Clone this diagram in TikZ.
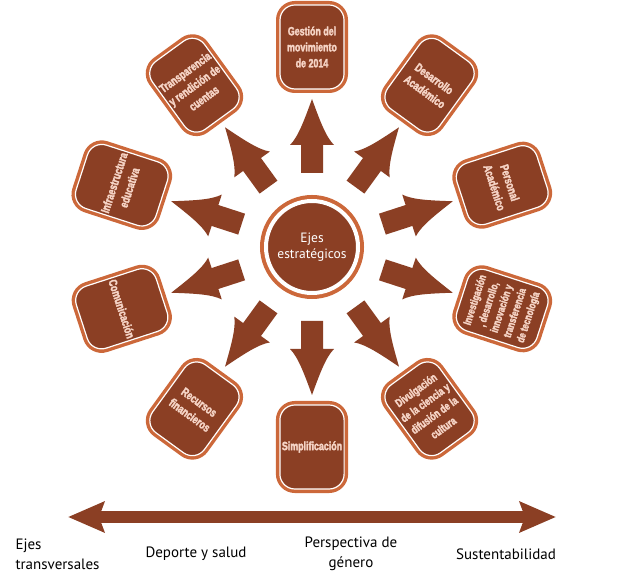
\documentclass[tikz,border=0pt]{standalone}
\usepackage{fontspec}
\setmainfont{PT Sans}
\newfontfamily\boxfont[FakeStretch=0.74, FakeBold=2.5]{Liberation Sans Bold}
\usetikzlibrary{calc,arrows.meta}

\definecolor{ejebrown}{RGB}{139,63,36}
\definecolor{ejeorange}{RGB}{204,104,58}
\definecolor{ejetext}{RGB}{246,212,198}

\tikzset{
  axisbox/.style={rectangle, rounded corners=15pt, minimum width=64pt, minimum height=84pt,
    inner sep=2pt, fill=ejebrown, draw=white, line width=1.2pt,
    preaction={draw=ejeorange, line width=8pt}, text=ejetext,
    font=\boxfont\fontsize{12}{16}\selectfont, align=center},
  hubnode/.style={circle, minimum size=92pt, fill=ejebrown, draw=white, line width=4pt,
    preaction={draw=ejeorange, line width=12pt}, text=white,
    font=\fontsize{13.5}{16.5}\selectfont, align=center},
  caption/.style={font=\fontsize{15}{20}\selectfont, align=center},
  spoke/.pic={
    \fill[ejebrown] (74,-11) -- (102,-11) -- (102,-22)
      .. controls (110,-14) and (126,-8) .. (148,0)
      .. controls (126,8) and (110,14) .. (102,22) -- (102,11) -- (74,11) -- cycle;
  }
}

\begin{document}
\begin{tikzpicture}[x=1pt, y=1pt]
  \useasboundingbox (0,0) rectangle (620,575);

  \node[hubnode] (hub) at (312,328) {Ejes\\estratégicos};

  \node[axisbox] (gestion) at ($(hub)+(90:200)$) {Gestión del\\movimiento\\de 2014};
  \node[axisbox, rotate=-36] (desarrollo) at ($(hub)+(54:200)$) {Desarrollo\\Académico};
  \node[axisbox, rotate=-72] (personal) at ($(hub)+(18:200)$) {Personal\\Académico};
  \node[axisbox, rotate=72, font=\boxfont\fontsize{11}{14}\selectfont] (investigacion) at ($(hub)+(-18:200)$) {Investigación\\, desarrollo,\\innovación y\\transferencia\\de tecnología};
  \node[axisbox, rotate=36, font=\boxfont\fontsize{11.5}{15.5}\selectfont] (divulgacion) at ($(hub)+(-54:200)$) {Divulgación\\de la ciencia y\\difusión de la\\cultura};
  \node[axisbox] (simplificacion) at ($(hub)+(-90:200)$) {Simplificación};
  \node[axisbox, rotate=-36] (recursos) at ($(hub)+(-126:200)$) {Recursos\\financieros};
  \node[axisbox, rotate=-72] (comunicacion) at ($(hub)+(-162:200)$) {Comunicación};
  \node[axisbox, rotate=72] (infraestructura) at ($(hub)+(162:200)$) {Infraestructura\\educativa};
  \node[axisbox, rotate=36] (transparencia) at ($(hub)+(126:200)$) {Transparencia\\y rendición de\\cuentas};

  % arrows out of the hub
  \path (hub.center) -- (gestion.center) pic[pos=0, sloped, allow upside down] {spoke};
  \path (hub.center) -- (desarrollo.center) pic[pos=0, sloped, allow upside down] {spoke};
  \path (hub.center) -- (personal.center) pic[pos=0, sloped, allow upside down] {spoke};
  \path (hub.center) -- (investigacion.center) pic[pos=0, sloped, allow upside down] {spoke};
  \path (hub.center) -- (divulgacion.center) pic[pos=0, sloped, allow upside down] {spoke};
  \path (hub.center) -- (simplificacion.center) pic[pos=0, sloped, allow upside down] {spoke};
  \path (hub.center) -- (recursos.center) pic[pos=0, sloped, allow upside down] {spoke};
  \path (hub.center) -- (comunicacion.center) pic[pos=0, sloped, allow upside down] {spoke};
  \path (hub.center) -- (infraestructura.center) pic[pos=0, sloped, allow upside down] {spoke};
  \path (hub.center) -- (transparencia.center) pic[pos=0, sloped, allow upside down] {spoke};

  % transversal axis
  \coordinate (leftend) at (68,58);
  \coordinate (rightend) at (556,58);
  \draw[ejebrown, line width=12pt, {Stealth[length=36pt, width=30pt, inset=5pt]}-{Stealth[length=36pt, width=30pt, inset=5pt]}] (leftend) -- (rightend);

  \node[caption, align=left, anchor=west] (transversales) at (12,21) {Ejes\\transversales};
  \node[caption] (deporte) at (196,21) {Deporte y salud};
  \node[caption] (genero) at (351,21) {Perspectiva de\\género};
  \node[caption] (sustentabilidad) at (506,21) {Sustentabilidad};
\end{tikzpicture}
\end{document}
